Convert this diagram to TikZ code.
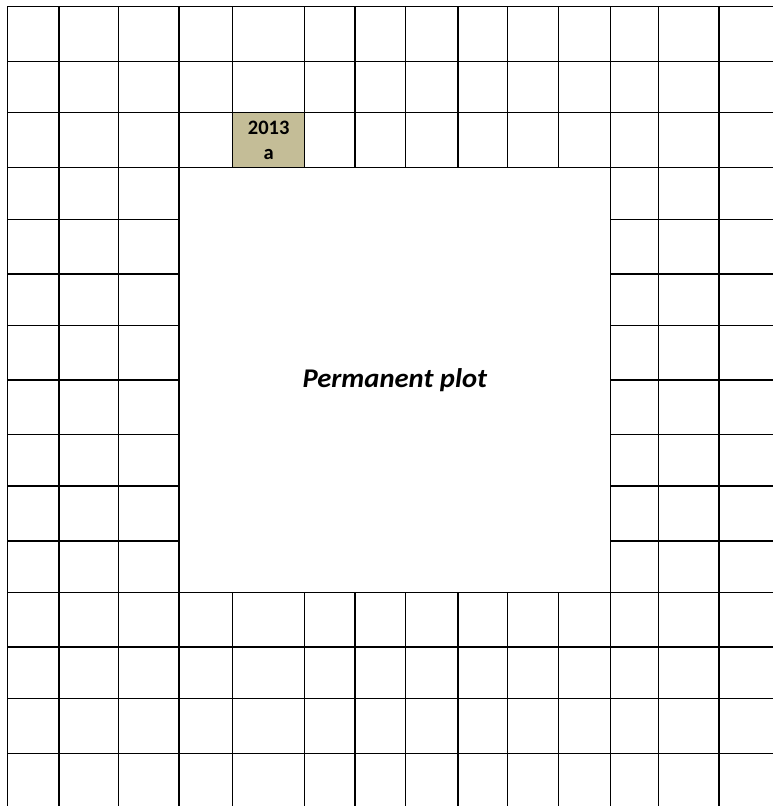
\documentclass[tikz,border=0pt]{standalone}
\usepackage{fontspec}
\setmainfont{Carlito}
\definecolor{plottan}{HTML}{C4BD97}

\begin{document}
\begin{tikzpicture}[x=1pt,y=-1pt,
  gridline/.style={line width=1.4pt, black, line cap=rect},
  plotbox/.style={draw, line width=1.4pt, fill=white, inner sep=0pt,
    font=\fontsize{27}{31}\selectfont\bfseries\itshape},
  yearcell/.style={draw, line width=1.4pt, fill=plottan, inner sep=0pt, align=center,
    font=\fontsize{20.5}{25}\selectfont\bfseries}]
\useasboundingbox (0,0) rectangle (772,806);
% grid of subplots
\foreach \gx in {7.7,59,118.7,179,232.7,304.7,355,405.7,458,507.7,558.7,610.7,658.7,719}
  \draw[gridline] (\gx,6.7) -- (\gx,806);
\foreach \gy in {6.7,61.7,112.7,167.3,219.3,274,325.7,380,434.7,486,541,592.7,647,698.7,753.7}
  \draw[gridline] (7.7,\gy) -- (772,\gy);
% permanent plot in the middle
\node[plotbox, minimum width=431.7pt, minimum height=425.4pt] (permplot) at (394.85,380) {\scalebox{1.06}[1]{Permanent plot}};
% sampled subplot
\node[yearcell, minimum width=72pt, minimum height=54.6pt] (sub2013a) at (268.7,140) {2013\\a};
\end{tikzpicture}
\end{document}
